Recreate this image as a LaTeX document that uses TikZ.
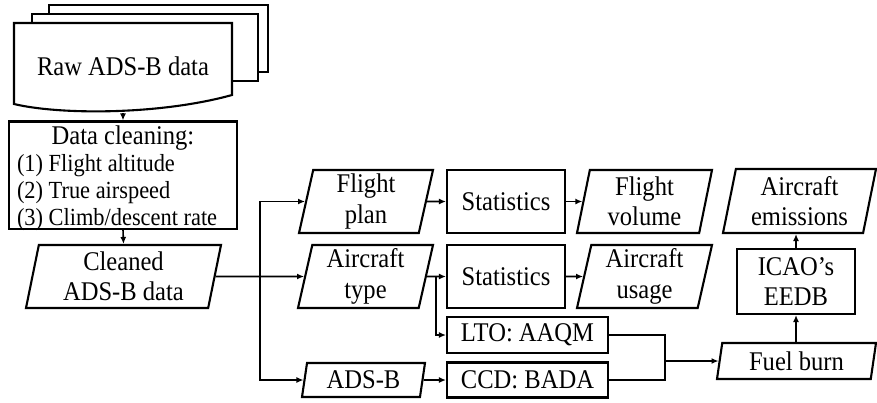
\documentclass[tikz,border=0pt]{standalone}
\usepackage{fontspec}
\usepackage{array}
\setmainfont{Liberation Serif}[FakeStretch=0.91]
\usetikzlibrary{arrows.meta,positioning,calc,shapes.geometric}

\begin{document}
\begin{tikzpicture}[
  x=1pt, y=-1pt,
  font=\fontsize{27}{30.5}\selectfont,
  box/.style={draw, line width=2.1pt, align=center, inner sep=2pt},
  para/.style={trapezium, trapezium left angle=76, trapezium right angle=104,
    trapezium stretches body, draw, line width=2.1pt, align=center, inner sep=1pt},
  sheet/.style={draw, fill=white, line width=2.1pt},
  arrow/.style={-{Latex[length=7pt,width=6pt]}, line width=1.6pt},
  link/.style={line width=1.6pt}
]
\useasboundingbox (0,0) rectangle (877,402);

% stacked raw data sheets
\draw[sheet] (49,5) rectangle (268,72);
\draw[sheet] (32,14) rectangle (258,81);
\draw[sheet] (14,23) -- (232,23) -- (232,95)
  .. controls (160,115) and (60,115) .. (14,104) -- cycle;
\node[minimum width=218pt, minimum height=90pt, inner sep=0pt] (raw) at (123,68) {\raisebox{4pt}{Raw ADS-B data}};

\node[box, minimum width=228pt, minimum height=106pt, inner sep=0pt, inner xsep=8pt,
  font=\fontsize{24.6}{27}\selectfont] (clean) at (123,175)
  {\begin{tabular}{@{}>{\raggedright\arraybackslash}p{212pt}@{}}
   \multicolumn{1}{@{}c@{}}{\rule{0pt}{23pt}\fontsize{27}{27}\selectfont Data cleaning:}\\
   (1) Flight altitude\\
   (2) True airspeed\\
   (3) Climb/descent rate\\[-5pt]
   \end{tabular}};

\node[para, minimum width=195pt, minimum height=63pt] (cdata) at (123.5,276.5) {Cleaned\\ADS-B data};

% middle column
\node[para, minimum width=134pt, minimum height=63pt] (fplan) at (366,201.5) {Flight\\plan};
\node[para, minimum width=135pt, minimum height=63pt] (atype) at (365.5,276.5) {Aircraft\\type};
\node[para, minimum width=123pt, minimum height=34pt] (adsb) at (363.5,380) {ADS-B};

\node[box, minimum width=118pt, minimum height=63pt] (stat1) at (506,201.5) {Statistics};
\node[box, minimum width=118pt, minimum height=63pt] (stat2) at (506,276.5) {Statistics};
\node[box, minimum width=161pt, minimum height=36pt, inner sep=0pt] (lto) at (527.5,335) {LTO: AAQM};
\node[box, minimum width=161pt, minimum height=35pt, inner sep=0pt] (ccd) at (527.5,380) {CCD: BADA};

\node[para, minimum width=135pt, minimum height=63pt] (vol) at (644.5,201.5) {Flight\\volume};
\node[para, minimum width=135pt, minimum height=63pt] (usage) at (644.5,276.5) {Aircraft\\usage};

% emission chain
\node[para, minimum width=159pt, minimum height=36pt] (fuel) at (796.5,361) {Fuel burn};
\node[box, minimum width=118pt, minimum height=65pt] (eedb) at (796,281.5) {ICAO's\\EEDB};
\node[para, minimum width=153pt, minimum height=64pt] (emis) at (799.5,201) {Aircraft\\emissions};

\coordinate (split) at (260,276.5);
\coordinate (tsplit) at (436,276.5);
\coordinate (join) at (665,361);

\draw[arrow] (raw.south) -- (clean.north);
\draw[arrow] (clean.south) -- (cdata.north);
\draw[link] (cdata.east) -- (split);
\draw[arrow] (split) |- (fplan.west);
\draw[arrow] (split) -- (atype.west);
\draw[arrow] (split) |- (adsb.west);
\draw[arrow] (fplan.east) -- (stat1.west);
\draw[arrow] (stat1.east) -- (vol.west);
\draw[arrow] (atype.east) -- (stat2.west);
\draw[arrow] (tsplit) |- (lto.west);
\draw[arrow] (stat2.east) -- (usage.west);
\draw[arrow] (adsb.east) -- (ccd.west);
\draw[link] (lto.east) -| (join);
\draw[link] (ccd.east) -| (join);
\draw[arrow] (join) -- (fuel.west);
\draw[arrow] (eedb.south |- fuel.north) -- (eedb.south);
\draw[arrow] (eedb.north) -- (eedb.north |- emis.south);
\end{tikzpicture}
\end{document}
